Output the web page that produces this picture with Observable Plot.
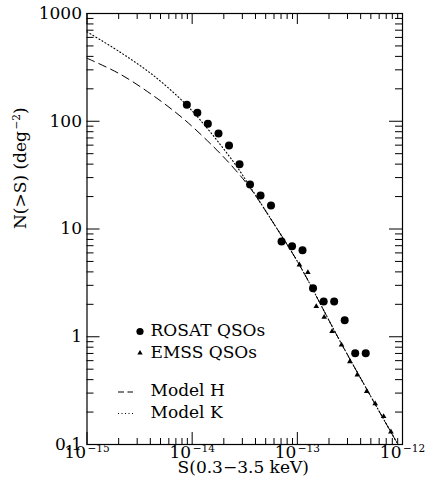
<!DOCTYPE html>
<html><head><meta charset="utf-8">
<script src="https://cdn.jsdelivr.net/npm/d3@7"></script>
<script src="https://cdn.jsdelivr.net/npm/@observablehq/plot@0.6"></script>
<style>body{margin:0;background:#fff;}</style>
</head><body><div id="chart"></div>
<script>
// ROSAT QSOs (filled circles)
const rosatS = [8.9e-15, 1.12e-14, 1.41e-14, 1.78e-14, 2.24e-14, 2.82e-14, 3.55e-14, 4.47e-14, 5.62e-14, 7.08e-14, 8.91e-14, 1.12e-13, 1.41e-13, 1.78e-13, 2.24e-13, 2.82e-13, 3.55e-13, 4.47e-13];
const rosatN = [142, 120, 94.6, 76.9, 59.5, 40, 25.9, 20.5, 16.5, 7.65, 6.92, 6.36, 2.82, 2.12, 2.12, 1.42, 0.704, 0.704];
// EMSS QSOs (triangles)
const emssS = [1.047e-13, 1.259e-13, 1.514e-13, 1.80e-13, 2.14e-13, 2.63e-13, 3.16e-13, 3.72e-13, 4.57e-13, 5.50e-13, 6.61e-13, 7.76e-13];
const emssN = [4.65, 3.95, 1.91, 1.52, 1.12, 0.84, 0.589, 0.443, 0.312, 0.239, 0.182, 0.131];
// Model H (dashed)
const modelHS = [1e-15, 2.05e-15, 4.26e-15, 8.3e-15, 1.61e-14, 2.49e-14, 3.59e-14, 6.44e-14, 1.05e-13, 2.61e-13, 8.95e-13];
const modelHN = [384.6, 274.8, 173, 105, 57.5, 36.7, 23.7, 10, 4.62, 0.871, 0.102];
// Model K (dotted)
const modelKS = [1e-15, 2.05e-15, 4.26e-15, 8.22e-15, 1.2e-14, 1.86e-14, 2.68e-14, 3.59e-14, 6.44e-14, 1.05e-13, 2.61e-13, 8.95e-13];
const modelKN = [676, 440, 267, 152, 102, 60.4, 37.5, 24.3, 10, 4.62, 0.871, 0.102];
// Axes
const xTickValues = [1e-15, 1e-14, 1e-13, 1e-12];
const xTickBase = "10";
const xTickExponents = ["−15", "−14", "−13", "−12"];
const yTickValues = [0.1, 1, 10, 100, 1000];
const yTickLabels = ["0.1", "1", "10", "100", "1000"];
const xTitle = "S(0.3−3.5 keV)";
const yTitleMain = "N(>S) (deg";
const yTitleExp = "−2";
const yTitleEnd = ")";
const legendLabels = ["ROSAT QSOs", "EMSS QSOs", "Model H", "Model K"];

const rosat = rosatS.map((s, i) => ({S: s, N: rosatN[i]}));
const emss = emssS.map((s, i) => ({S: s, N: emssN[i]}));
const modelH = modelHS.map((s, i) => ({S: s, N: modelHN[i]}));
const modelK = modelKS.map((s, i) => ({S: s, N: modelKN[i]}));

const W = 426, H = 488, mL = 86.5, mR = 24, mT = 13, mB = 44;
const fw = W - mL - mR, fh = H - mT - mB;
const xDom = [1e-15, 1e-12], yDom = [0.1, 1000];
const isMajor = (v, arr) => arr.some(m => Math.abs(v / m - 1) < 1e-6);
const xMinor = d3.scaleLog().domain(xDom).ticks().filter(v => !isMajor(v, xTickValues));
const yMinor = d3.scaleLog().domain(yDom).ticks().filter(v => !isMajor(v, yTickValues));
const FS = 17;
const corner = {x: () => xDom[0], y: () => yDom[1]};

const legendMarks = [
  Plot.dot([0], {...corner, dx: 53, dy: 318, r: 3.6, fill: "black"}),
  Plot.dot([0], {...corner, dx: 53, dy: 339.5, r: 2, symbol: "triangle", fill: "black"}),
  Plot.tickY([yDom[1]], {y: d => d, insetLeft: 31.5, insetRight: fw - 46.5, dy: 378.5, stroke: "black", strokeDasharray: "6,3.5"}),
  Plot.tickY([yDom[1]], {y: d => d, insetLeft: 31.5, insetRight: fw - 46.5, dy: 400, stroke: "black", strokeDasharray: "1,2.5"}),
  ...legendLabels.map((lab, i) => Plot.text([lab], {...corner, text: d => d, dx: 63.5, dy: [316.7, 339, 377, 399][i], textAnchor: "start", fontSize: FS}))
];

const plot = Plot.plot({
  width: W, height: H,
  marginLeft: mL, marginRight: mR, marginTop: mT, marginBottom: mB,
  style: {fontFamily: "DejaVu Serif", fontSize: FS + "px", background: "white", color: "black"},
  x: {type: "log", domain: xDom, axis: null},
  y: {type: "log", domain: yDom, axis: null},
  marks: [
    Plot.frame({stroke: "black", strokeWidth: 1.2}),
    Plot.tickX(xTickValues, {x: d => d, insetTop: fh - 12, stroke: "black"}),
    Plot.tickX(xMinor, {x: d => d, insetTop: fh - 6, stroke: "black"}),
    Plot.tickX(xTickValues, {x: d => d, insetBottom: fh - 11, stroke: "black"}),
    Plot.tickX(xMinor, {x: d => d, insetBottom: fh - 6, stroke: "black"}),
    Plot.tickY(yTickValues, {y: d => d, insetRight: fw - 13, stroke: "black"}),
    Plot.tickY(yMinor, {y: d => d, insetRight: fw - 7, stroke: "black"}),
    Plot.tickY(yTickValues, {y: d => d, insetLeft: fw - 13, stroke: "black"}),
    Plot.tickY(yMinor, {y: d => d, insetLeft: fw - 7, stroke: "black"}),
    Plot.line(modelH, {x: "S", y: "N", curve: "catmull-rom", stroke: "black", strokeWidth: 1, strokeDasharray: "8,5"}),
    Plot.line(modelK, {x: "S", y: "N", curve: "catmull-rom", stroke: "black", strokeWidth: 1.1, strokeDasharray: "1,2.5"}),
    Plot.dot(rosat, {x: "S", y: "N", r: 4, fill: "black"}),
    Plot.dot(emss, {x: "S", y: "N", r: 2.1, symbol: "triangle", fill: "black"}),
    Plot.text(yTickValues, {y: d => d, text: (d, i) => yTickLabels[i], frameAnchor: "left", textAnchor: "end", dx: -5, fontSize: FS}),
    Plot.text(xTickValues, {x: d => d, text: () => xTickBase, frameAnchor: "bottom", textAnchor: "middle", dy: 13, fontSize: FS, className: "xticklabel"}),
    Plot.text([xTitle], {text: d => d, frameAnchor: "bottom", dx: -1.5, dy: 28.5, fontSize: FS}),
    Plot.text([yTitleMain], {text: d => d, frameAnchor: "left", rotate: -90, dx: -66.5, fontSize: FS}),
    ...legendMarks
  ]
});

const svgNS = "http://www.w3.org/2000/svg";
function addSup(t, sup, shift, tail) {
  const a = document.createElementNS(svgNS, "tspan");
  a.setAttribute("dy", String(-shift));
  a.setAttribute("dx", "1.5");
  a.setAttribute("font-size", "10.5");
  a.textContent = sup;
  t.appendChild(a);
  if (tail) {
    const b = document.createElementNS(svgNS, "tspan");
    b.setAttribute("dy", String(shift));
    b.textContent = tail;
    t.appendChild(b);
  }
}
// superscripts on x tick labels
plot.querySelectorAll("g.xticklabel text").forEach((t, i) => addSup(t, xTickExponents[i], 5.8, null));
// superscript on the y title
plot.querySelectorAll("text").forEach(t => {
  if (t.textContent === yTitleMain) addSup(t, yTitleExp, 6, yTitleEnd);
});
document.getElementById("chart").appendChild(plot);
</script>
</body></html>
